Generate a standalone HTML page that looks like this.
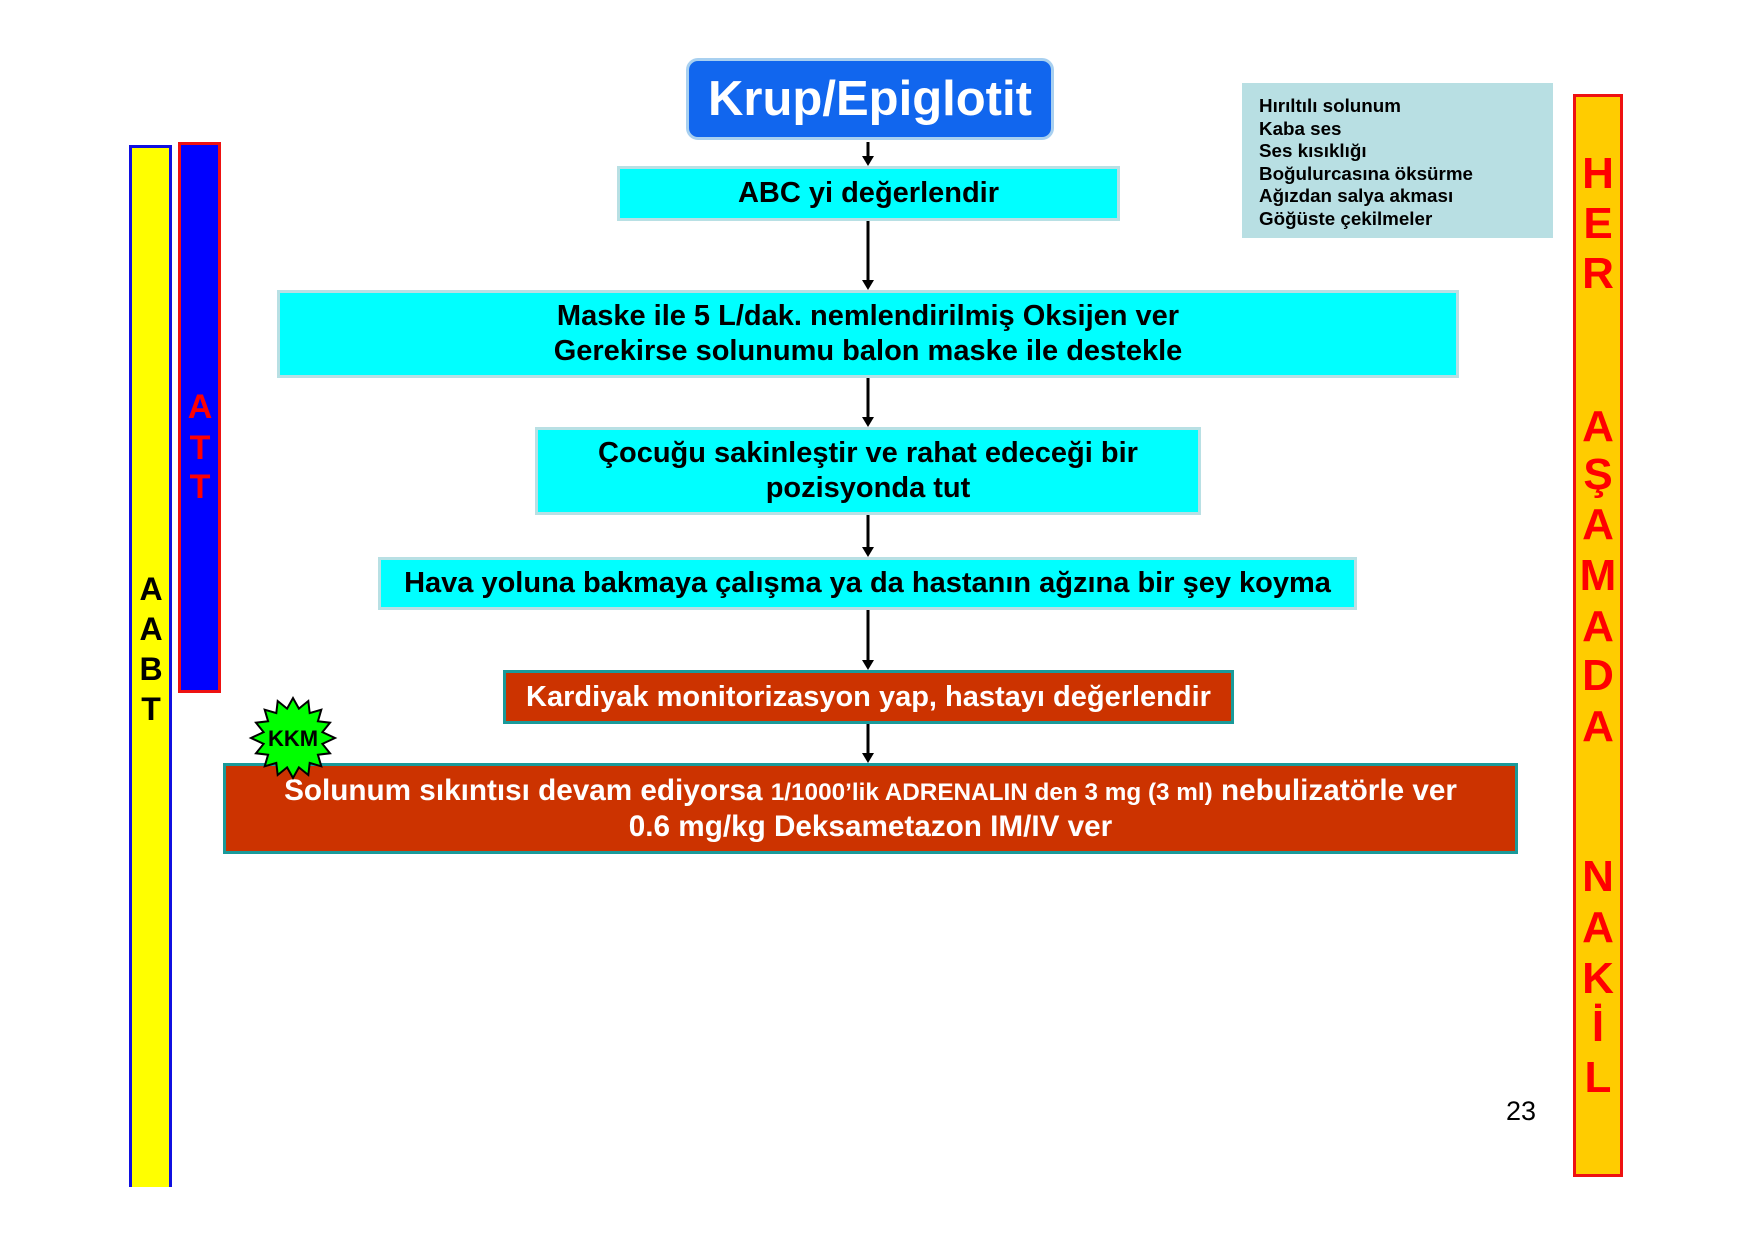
<!DOCTYPE html>
<html><head><meta charset="utf-8"><style>
body{margin:0;width:1755px;height:1240px;background:#fff;position:relative;overflow:hidden;font-family:"Liberation Sans",Arial,sans-serif;font-weight:bold}
.a{position:absolute;box-sizing:border-box}
.box{position:absolute;box-sizing:border-box;display:flex;flex-direction:column;justify-content:center;align-items:center;text-align:center;font-size:29px;line-height:35px}
.cy{background:#00ffff;border:3px solid #b8e0e4;color:#000}
.rd{background:#cc3300;border:3px solid #1a9a9a;color:#fff}
.L{position:absolute;width:50px;text-align:center;line-height:1}
</style></head><body>
<!-- left bars -->
<div class="a" style="left:129px;top:145px;width:43px;height:1042px;background:#ffff00;border:3px solid #1010e0;border-bottom:none"></div>
<div class="a" style="left:178px;top:142px;width:43px;height:551px;background:#0000ff;border:3px solid #ee1111"></div>
<div class="L" style="left:175px;top:390px;color:#ff0000;font-size:34px">A</div>
<div class="L" style="left:175px;top:431px;color:#ff0000;font-size:34px">T</div>
<div class="L" style="left:175px;top:470px;color:#ff0000;font-size:34px">T</div>
<div class="L" style="left:126px;top:573px;color:#000;font-size:32px">A</div>
<div class="L" style="left:126px;top:613px;color:#000;font-size:32px">A</div>
<div class="L" style="left:126px;top:653px;color:#000;font-size:32px">B</div>
<div class="L" style="left:126px;top:693px;color:#000;font-size:32px">T</div>
<!-- right bar -->
<div class="a" style="left:1573px;top:94px;width:50px;height:1083px;background:#ffcc00;border:3px solid #ee1111"></div>
<div class="L" style="left:1573px;top:152px;color:#ff0000;font-size:44px">H</div>
<div class="L" style="left:1573px;top:202px;color:#ff0000;font-size:44px">E</div>
<div class="L" style="left:1573px;top:252px;color:#ff0000;font-size:44px">R</div>
<div class="L" style="left:1573px;top:405px;color:#ff0000;font-size:44px">A</div>
<div class="L" style="left:1573px;top:453px;color:#ff0000;font-size:44px">Ş</div>
<div class="L" style="left:1573px;top:503px;color:#ff0000;font-size:44px">A</div>
<div class="L" style="left:1573px;top:554px;color:#ff0000;font-size:44px">M</div>
<div class="L" style="left:1573px;top:605px;color:#ff0000;font-size:44px">A</div>
<div class="L" style="left:1573px;top:654px;color:#ff0000;font-size:44px">D</div>
<div class="L" style="left:1573px;top:705px;color:#ff0000;font-size:44px">A</div>
<div class="L" style="left:1573px;top:855px;color:#ff0000;font-size:44px">N</div>
<div class="L" style="left:1573px;top:906px;color:#ff0000;font-size:44px">A</div>
<div class="L" style="left:1573px;top:957px;color:#ff0000;font-size:44px">K</div>
<div class="L" style="left:1573px;top:1005px;color:#ff0000;font-size:44px">İ</div>
<div class="L" style="left:1573px;top:1056px;color:#ff0000;font-size:44px">L</div>
<!-- symptoms -->
<div class="a" style="left:1242px;top:83px;width:311px;height:155px;background:#b8dfe3;padding:12px 0 0 17px;font-size:18.8px;line-height:22.5px;color:#000">Hırıltılı solunum<br>Kaba ses<br>Ses kısıklığı<br>Boğulurcasına öksürme<br>Ağızdan salya akması<br>Göğüste çekilmeler</div>
<!-- title -->
<div class="box" style="left:686px;top:58px;width:368px;height:82px;background:#1166ee;border:3px solid #a8d0f0;border-radius:12px;color:#fff;font-size:49px;line-height:60px">Krup/Epiglotit</div>
<div class="box cy" style="left:617px;top:166px;width:503px;height:55px">ABC yi değerlendir</div>
<div class="box cy" style="left:277px;top:290px;width:1182px;height:88px">Maske ile 5 L/dak. nemlendirilmiş Oksijen ver<br>Gerekirse solunumu balon maske ile destekle</div>
<div class="box cy" style="left:535px;top:427px;width:666px;height:88px">Çocuğu sakinleştir ve rahat edeceği bir<br>pozisyonda tut</div>
<div class="box cy" style="left:378px;top:557px;width:979px;height:53px">Hava yoluna bakmaya çalışma ya da hastanın ağzına bir şey koyma</div>
<div class="box rd" style="left:503px;top:670px;width:731px;height:54px">Kardiyak monitorizasyon yap, hastayı değerlendir</div>
<div class="box rd" style="left:223px;top:763px;width:1295px;height:91px;font-size:29.7px;line-height:34px">
<div>Solunum sıkıntısı devam ediyorsa <span style="font-size:24.3px">1/1000’lik ADRENALIN den 3 mg (3 ml)</span> nebulizatörle ver</div><div>0.6 mg/kg Deksametazon IM/IV ver</div></div>
<!-- arrows -->
<svg class="a" style="left:0;top:0" width="1755" height="1240">
<g stroke="#000" stroke-width="3">
<line x1="868" y1="142" x2="868" y2="158"/>
<line x1="868" y1="221" x2="868" y2="282"/>
<line x1="868" y1="378" x2="868" y2="419"/>
<line x1="868" y1="515" x2="868" y2="549"/>
<line x1="868" y1="610" x2="868" y2="662"/>
<line x1="868" y1="724" x2="868" y2="755"/>
</g>
<g fill="#000">
<polygon points="862,156 874,156 868,166"/>
<polygon points="862,280 874,280 868,290"/>
<polygon points="862,417 874,417 868,427"/>
<polygon points="862,547 874,547 868,557"/>
<polygon points="862,660 874,660 868,670"/>
<polygon points="862,753 874,753 868,763"/>
</g>
<g transform="translate(293,738)">
<polygon fill="#00ff00" stroke="#000" stroke-width="2" points="42,0 29.4,5.9 37,15.3 24.9,16.7 28.3,28.3 16.7,24.9 15.3,37 5.9,29.4 0,40 -5.9,29.4 -15.3,37 -16.7,24.9 -28.3,28.3 -24.9,16.7 -37,15.3 -29.4,5.9 -42,0 -29.4,-5.9 -37,-15.3 -24.9,-16.7 -28.3,-28.3 -16.7,-24.9 -15.3,-37 -5.9,-29.4 0,-40 5.9,-29.4 15.3,-37 16.7,-24.9 28.3,-28.3 24.9,-16.7 37,-15.3 29.4,-5.9"/>
<text x="0" y="8" text-anchor="middle" font-family="Liberation Sans,Arial,sans-serif" font-weight="bold" font-size="22" fill="#000">KKM</text>
</g>
</svg>
<div class="a" style="left:1506px;top:1096px;font-weight:normal;font-size:27px">23</div>
</body></html>
